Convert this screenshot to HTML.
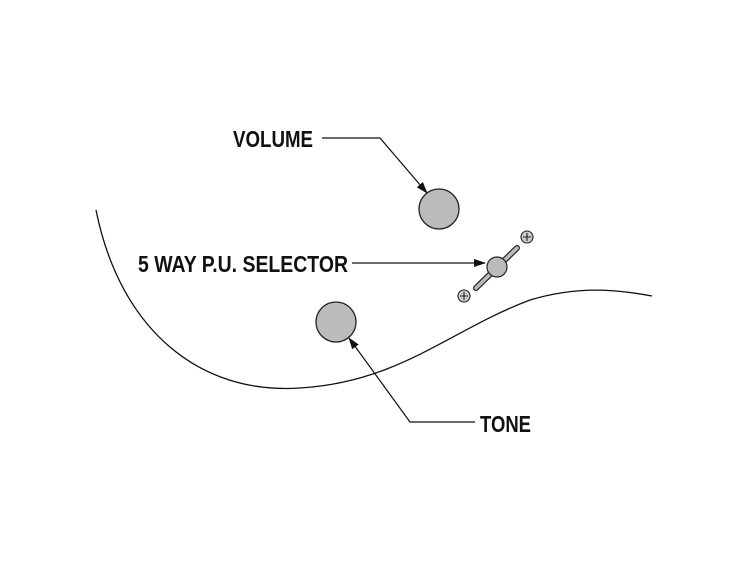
<!DOCTYPE html>
<html><head><style>
body{margin:0;background:#fff;}
svg text{font-family:"Liberation Sans Narrow","Liberation Sans",sans-serif;font-weight:bold;font-size:23px;fill:#111;}
</style></head><body>
<svg width="750" height="563" viewBox="0 0 750 563">
<defs><marker id="a" markerWidth="12" markerHeight="8" refX="11" refY="4" orient="auto" markerUnits="userSpaceOnUse"><path d="M0,0 L12,4 L0,8 Z" fill="#111"/></marker></defs>
<path d="M96,210 C120,330 200,395 300,388 C400,382 450,330 530,300 C580,285 620,290 652,296" fill="none" stroke="#111" stroke-width="1.3"/>
<text x="233" y="147" textLength="80" lengthAdjust="spacingAndGlyphs">VOLUME</text>
<text x="138" y="272" textLength="210" lengthAdjust="spacingAndGlyphs">5 WAY P.U. SELECTOR</text>
<text x="480" y="432" textLength="51" lengthAdjust="spacingAndGlyphs">TONE</text>
<polyline points="322,138 380,138 427,193" fill="none" stroke="#111" stroke-width="1.2" marker-end="url(#a)"/>
<line x1="352" y1="263" x2="485" y2="263" stroke="#111" stroke-width="1.2" marker-end="url(#a)"/>
<polyline points="475,422 410,422 349,338" fill="none" stroke="#111" stroke-width="1.2" marker-end="url(#a)"/>
<circle cx="439" cy="209" r="20" fill="#bbb" stroke="#222" stroke-width="1.3"/>
<circle cx="336" cy="322" r="20" fill="#bbb" stroke="#222" stroke-width="1.3"/>
<line x1="476" y1="288" x2="517" y2="248" stroke="#222" stroke-width="6" stroke-linecap="round"/>
<line x1="476" y1="288" x2="517" y2="248" stroke="#bbb" stroke-width="3.6" stroke-linecap="round"/>
<circle cx="497" cy="267" r="10" fill="#bbb" stroke="#222" stroke-width="1.2"/>
<g stroke="#222" stroke-width="1.1" fill="#ccc">
<circle cx="527" cy="237" r="6"/><circle cx="464" cy="296" r="6"/>
<path d="M523,237h8M527,233v8M460,296h8M464,292v8"/>
</g>
</svg>
</body></html>
